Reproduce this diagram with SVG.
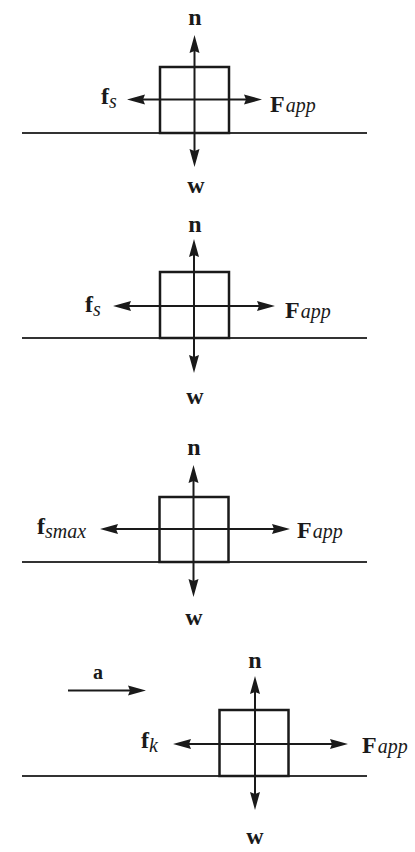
<svg xmlns="http://www.w3.org/2000/svg" width="415" height="852" viewBox="0 0 415 852">
<style>
.ln{stroke:#1a1a1a;stroke-width:2;fill:none}
.gr{stroke:#333;stroke-width:2.2;fill:none}
.bx{stroke:#1a1a1a;stroke-width:2.5;fill:none}
.ar{stroke:#1a1a1a;stroke-width:2;fill:none;marker-end:url(#ah)}
text{font-family:"Liberation Serif","Times New Roman",serif;fill:#1a1a1a}
.b{font-weight:bold;font-size:24px}
.sub{font-style:italic;font-weight:normal;font-size:20px}
.m{text-anchor:middle}
.e{text-anchor:end}
</style>
<defs>
<marker id="ah" markerUnits="userSpaceOnUse" markerWidth="20" markerHeight="12" refX="10" refY="5" orient="auto" overflow="visible">
<path d="M0,0 L18,5 L0,10 L2,5 z" fill="#1a1a1a"/>
</marker>
</defs>
<rect width="415" height="852" fill="#fff"/>
<g id="ground">
<line class="gr" x1="22" y1="133" x2="367" y2="133"/>
<line class="gr" x1="22" y1="338" x2="367" y2="338"/>
<line class="gr" x1="22" y1="562" x2="367" y2="562"/>
<line class="gr" x1="22" y1="776" x2="367" y2="776"/>
</g>
<g id="box1"><rect class="bx" x="160" y="67" width="69" height="66"/></g>
<g id="box2"><rect class="bx" x="160" y="272" width="69" height="66"/></g>
<g id="box3"><rect class="bx" x="159.5" y="497" width="69" height="65"/></g>
<g id="box4"><rect class="bx" x="219.5" y="710" width="69" height="66"/></g>
<g id="connectors">
<line class="ar" x1="194.5" y1="100" x2="194.5" y2="43"/>
<line class="ar" x1="194.5" y1="100" x2="194.5" y2="159"/>
<line class="ar" x1="194.5" y1="99.5" x2="135" y2="99.5"/>
<line class="ar" x1="194.5" y1="99.5" x2="254" y2="99.5"/>
<line class="ar" x1="194" y1="306" x2="194" y2="247"/>
<line class="ar" x1="194" y1="306" x2="194" y2="365"/>
<line class="ar" x1="194" y1="306" x2="121" y2="306"/>
<line class="ar" x1="194" y1="306" x2="267" y2="306"/>
<line class="ar" x1="193.5" y1="529" x2="193.5" y2="473"/>
<line class="ar" x1="193.5" y1="529" x2="193.5" y2="589"/>
<line class="ar" x1="193.5" y1="529" x2="108" y2="529"/>
<line class="ar" x1="193.5" y1="529" x2="282" y2="529"/>
<line class="ar" x1="255" y1="744" x2="255" y2="684"/>
<line class="ar" x1="255" y1="744" x2="255" y2="802"/>
<line class="ar" x1="255" y1="744" x2="181" y2="744"/>
<line class="ar" x1="255" y1="744" x2="340" y2="744"/>
<line class="ar" x1="68" y1="690.5" x2="138" y2="690.5"/>
</g>
<g id="labels1">
<text class="b m" x="195" y="25">n</text>
<text class="b" x="101" y="104">f<tspan class="sub" dy="4">s</tspan></text>
<text class="b" x="270" y="112">F<tspan class="sub" dx="1">app</tspan></text>
<text class="b m" x="196" y="193">w</text>
</g>
<g id="labels2">
<text class="b m" x="195" y="232">n</text>
<text class="b" x="85" y="312">f<tspan class="sub" dy="4">s</tspan></text>
<text class="b" x="285" y="318">F<tspan class="sub" dx="1">app</tspan></text>
<text class="b m" x="195" y="404">w</text>
</g>
<g id="labels3">
<text class="b m" x="194" y="455">n</text>
<text class="b" x="37" y="534">f<tspan class="sub" dy="4">smax</tspan></text>
<text class="b" x="297" y="538">F<tspan class="sub" dx="1">app</tspan></text>
<text class="b m" x="194" y="625">w</text>
</g>
<g id="labels4">
<text class="b m" x="98" y="679" style="font-size:20px">a</text>
<text class="b m" x="255" y="668">n</text>
<text class="b" x="141" y="748">f<tspan class="sub" dy="4">k</tspan></text>
<text class="b" x="362" y="753">F<tspan class="sub" dx="1">app</tspan></text>
<text class="b m" x="255" y="844">w</text>
</g>
</svg>
